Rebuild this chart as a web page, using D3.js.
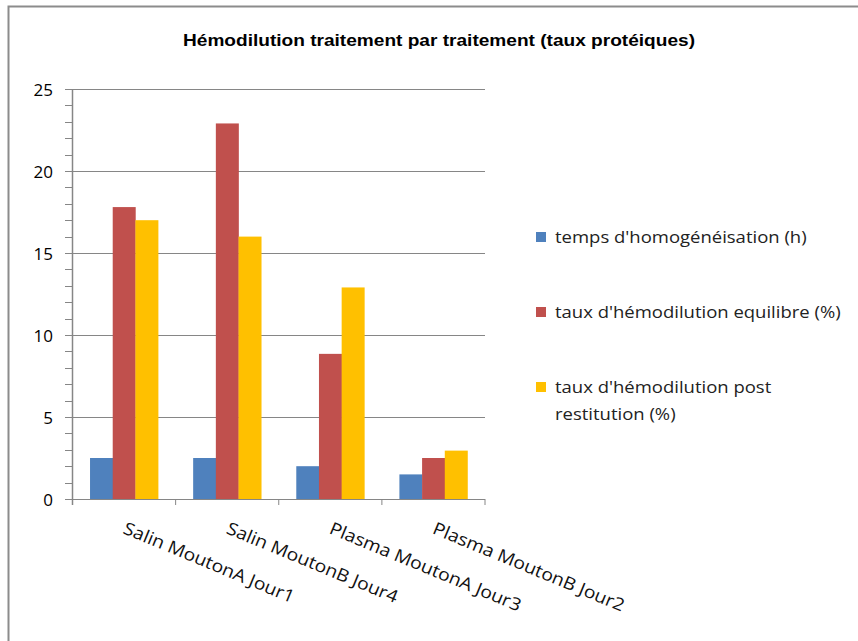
<!DOCTYPE html>
<html><head><meta charset="utf-8">
<script src="https://cdn.jsdelivr.net/npm/d3@7"></script>
<style>body{margin:0;background:#fff}</style>
</head><body>
<svg id="c" width="858" height="641"></svg>
<script>
const categories = ["Salin MoutonA Jour1","Salin MoutonB Jour4","Plasma MoutonA Jour3","Plasma MoutonB Jour2"];
const seriesNames = ["temps d'homogénéisation (h)","taux d'hémodilution equilibre (%)","taux d'hémodilution post restitution (%)"];
const tempsHomog = [2.5, 2.5, 2.0, 1.5];
const tauxEquilibre = [17.8, 22.9, 8.85, 2.5];
const tauxPostRestitution = [17.0, 16.0, 12.9, 2.95];
const yTicks = [0,5,10,15,20,25];
const colors = ["#4f81bd","#c0504d","#ffc000"];
const series = [tempsHomog, tauxEquilibre, tauxPostRestitution];

const svg = d3.select("#c");
const font = "'Open Sans', 'DejaVu Sans', sans-serif";
function stretch(sel, f){ sel.each(function(){ const n=this; const l=n.getComputedTextLength(); d3.select(n).attr("textLength", l*f).attr("lengthAdjust","spacingAndGlyphs"); }); }

// frame
svg.append("path").attr("d","M8.5,641 V6.5 H858").attr("fill","none").attr("stroke","#8c8c8c").attr("stroke-width",2);

const title = svg.append("text").attr("x",439).attr("y",46).attr("text-anchor","middle")
  .attr("font-family","'Liberation Sans', Arial, sans-serif").attr("font-weight","bold").attr("font-size",16.5)
  .attr("fill","#000").text("Hémodilution traitement par traitement (taux protéiques)");
title.attr("textLength",512).attr("lengthAdjust","spacingAndGlyphs");

const L=72.5, R=485, T=89, B=499;
const x = d3.scaleBand().domain(categories).range([L,R]).paddingInner(0.34).paddingOuter(0.17);
const y = d3.scaleLinear().domain([0,25]).range([B,T]);

// gridlines
svg.append("g").selectAll("line").data(yTicks.filter(d=>d>0)).join("line")
  .attr("x1",L).attr("x2",R).attr("y1",d=>Math.round(y(d))+0.5).attr("y2",d=>Math.round(y(d))+0.5)
  .attr("stroke","#868686").attr("stroke-width",1);
// minor ticks
svg.append("g").selectAll("line").data(d3.range(0,26)).join("line")
  .attr("x1",65).attr("x2",L).attr("y1",d=>Math.round(y(d))+0.5).attr("y2",d=>Math.round(y(d))+0.5)
  .attr("stroke","#868686");
// y labels
const yl = svg.append("g").selectAll("text").data(yTicks).join("text")
  .attr("x",53).attr("y",d=>y(d)+6.5).attr("text-anchor","end")
  .attr("font-family",font).attr("font-size",17).attr("fill","#000").text(d=>d);

// bars
const x1 = d3.scaleBand().domain([0,1,2]).range([0,x.bandwidth()]);
const g = svg.append("g");
categories.forEach((c,i)=>{
  series.forEach((s,j)=>{
    g.append("rect").attr("x",x(c)+x1(j)).attr("width",x1.bandwidth()+0.3)
      .attr("y",y(s[i])).attr("height",B-y(s[i])).attr("fill",colors[j]);
  });
});

// axes lines
svg.append("line").attr("x1",L).attr("x2",L).attr("y1",T).attr("y2",505).attr("stroke","#868686").attr("stroke-width",1.5);
svg.append("line").attr("x1",65).attr("x2",R).attr("y1",B+0.5).attr("y2",B+0.5).attr("stroke","#868686").attr("stroke-width",1.2);
const step = (R-L)/categories.length;
svg.append("g").selectAll("line").data(d3.range(1,categories.length+1)).join("line")
  .attr("x1",d=>L+d*step).attr("x2",d=>L+d*step).attr("y1",B).attr("y2",505)
  .attr("stroke","#868686");

// x labels
const xl = svg.append("g").selectAll("text").data(categories).join("text")
  .attr("transform",d=>`translate(${x(d)+x.bandwidth()/2-2},${533}) rotate(22.5)`)
  .attr("font-family",font).attr("font-size",17.5).attr("fill","#111").text(d=>d);
stretch(xl, 1.1);

// legend
const leg = [{y:232,lines:[seriesNames[0]]},{y:307,lines:[seriesNames[1]]},{y:382,lines:["taux d'hémodilution post","restitution (%)"]}];
leg.forEach((l,i)=>{
  svg.append("rect").attr("x",536).attr("y",l.y).attr("width",10).attr("height",10).attr("fill",colors[i]);
  const t = svg.append("text").attr("x",555).attr("y",l.y+11).attr("font-family",font).attr("font-size",16.5).attr("fill","#222");
  l.lines.forEach((s,k)=>{ const ts=t.append("tspan").attr("x",555).attr("dy",k?27:0).text(s); stretch(ts,1.12); });
});
</script>
</body></html>
